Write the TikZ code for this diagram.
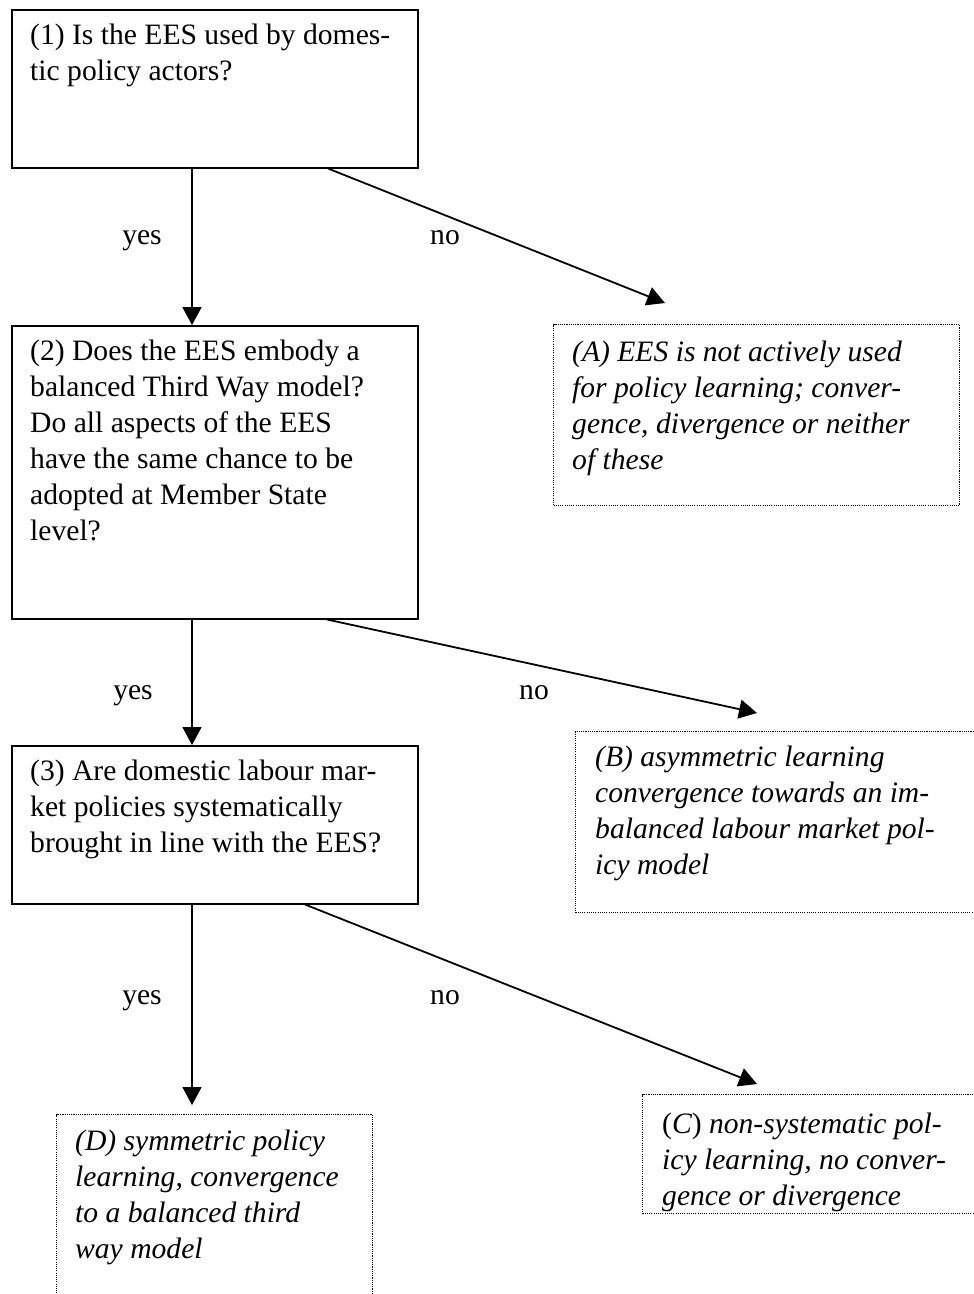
\documentclass[tikz,border=0pt]{standalone}
\usepackage{fontspec}
\setmainfont{Liberation Serif}
\usetikzlibrary{arrows.meta, positioning, calc}

\begin{document}
\begin{tikzpicture}[x=1pt, y=-1pt,
    q/.style={draw, line width=1.5pt, rectangle, anchor=north west, minimum width=406pt, inner sep=0pt},
    res/.style={draw, line width=1.1pt, dash pattern=on 1.1pt off 1.1pt, anchor=north west, inner sep=0pt},
    txt/.style={anchor=north west, inner sep=0pt, align=left, font=\fontsize{29.6}{36}\selectfont},
    ital/.style={txt, font=\fontsize{29.6}{36}\selectfont\itshape},
    lab/.style={anchor=base, inner sep=0pt, font=\fontsize{29.6}{36}\selectfont},
    arr/.style={-{Triangle[length=18pt, width=19pt]}, line width=1.8pt},
  ]
  \clip (0,0) rectangle (974,1294);

  % question boxes
  \node[q, minimum height=158pt] (q1) at (11,9) {};
  \node[q, minimum height=293pt] (q2) at (11,325) {};
  \node[q, minimum height=158pt] (q3) at (11,745) {};
  \node[txt] (q1t) at ($(q1.north west)+(19,15)$) {(1) Is the EES used by domes-\\tic policy actors?};
  \node[txt] (q2t) at ($(q2.north west)+(19,15)$) {(2) Does the EES embody a\\balanced Third Way model?\\Do all aspects of the EES\\have the same chance to be\\adopted at Member State\\level?};
  \node[txt] (q3t) at ($(q3.north west)+(19,15)$) {(3) Are domestic labour mar-\\ket policies systematically\\brought in line with the EES?};

  % outcome boxes
  \node[res, minimum width=406pt, minimum height=181pt] (ra) at (553,324) {};
  \node[res, minimum width=410pt, minimum height=181pt] (rb) at (575,731) {};
  \node[res, minimum width=340pt, minimum height=119pt] (rc) at (642,1094) {};
  \node[res, minimum width=316pt, minimum height=200pt] (rd) at (56,1114) {};
  \node[ital] (rat) at ($(ra.north west)+(19,17)$) {(A) EES is not actively used\\for policy learning; conver-\\gence, divergence or neither\\of these};
  \node[ital] (rbt) at ($(rb.north west)+(20,15)$) {(B) asymmetric learning\\convergence towards an im-\\balanced labour market pol-\\icy model};
  \node[ital] (rct) at ($(rc.north west)+(20,19)$) {{\upshape(}C{\upshape)} non-systematic pol-\\icy learning, no conver-\\gence or divergence};
  \node[ital] (rdt) at ($(rd.north west)+(19,16)$) {(D) symmetric policy\\learning, convergence\\to a balanced third\\way model};

  % yes / no
  \node[lab] (yes1) at (142,244) {yes};
  \node[lab] (no1) at (445,244) {no};
  \node[lab] (yes2) at (133,699) {yes};
  \node[lab] (no2) at (534,699) {no};
  \node[lab] (yes3) at (142,1004) {yes};
  \node[lab] (no3) at (445,1004) {no};

  \coordinate (ta) at (665,303);
  \coordinate (tb) at (757,713);
  \coordinate (tc) at (757,1084);
  \coordinate (td) at (192,1105);

  \draw[arr] ([xshift=181pt]q1.south west) -- ([xshift=181pt]q2.north west);
  \draw[arr] ([xshift=317pt]q1.south west) -- (ta);
  \draw[arr] ([xshift=181pt]q2.south west) -- ([xshift=181pt]q3.north west);
  \draw[arr] ([xshift=316pt]q2.south west) -- (tb);
  \draw[arr] ([xshift=181pt]q3.south west) -- (td);
  \draw[arr] ([xshift=294pt]q3.south west) -- (tc);
\end{tikzpicture}
\end{document}
